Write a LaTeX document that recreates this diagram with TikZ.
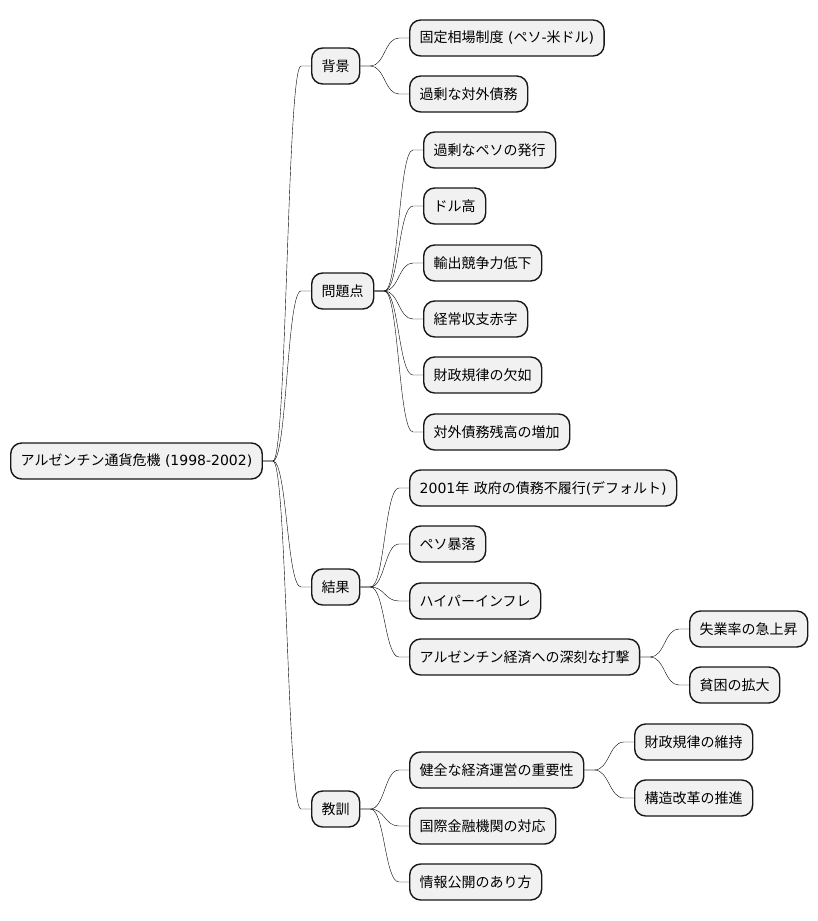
\documentclass[tikz,border=0pt]{standalone}
\usepackage{fontspec}
\setmainfont{Noto Sans CJK JP}
\newfontfamily\lat{DejaVu Sans}
\usetikzlibrary{calc}
\definecolor{boxfill}{HTML}{F1F1F1}
\definecolor{boxline}{HTML}{181818}
\tikzset{
  box/.style={draw=boxline, fill=boxfill, line width=1.4pt, rounded corners=11pt,
    minimum height=36pt, inner xsep=10pt, inner ysep=0pt, anchor=west,
    font=\fontsize{14pt}{16pt}\selectfont, text=black},
  link/.style={draw=boxline, line width=1.1pt,
    to path={let \p1=(\tikztostart), \p2=(\tikztotarget) in
      -- (\x1+10pt,\y1) .. controls ({(\x1+\x2)/2},\y1) and ({(\x1+\x2)/2},\y2) .. (\x2-10pt,\y2) -- (\tikztotarget)}}
}
\begin{document}
\begin{tikzpicture}[x=1pt,y=-1pt]
\useasboundingbox[fill=white] (0,0) rectangle (818,921);
% root
\node[box] (root) at (10,461) {アルゼンチン通貨危機{\lat\ (1998-2002)}};
% level 1
\node[box] (bg) at (311,66) {背景};
\node[box] (pr) at (311,291) {問題点};
\node[box] (rs) at (311,587) {結果};
\node[box] (ls) at (311,809) {教訓};
% 背景
\node[box] (bg1) at (409,38) {固定相場制度{\lat\ (}ペソ{\lat -}米ドル{\lat )}};
\node[box] (bg2) at (409,94) {過剰な対外債務};
% 問題点
\node[box] (pr1) at (423,150) {過剰なペソの発行};
\node[box] (pr2) at (423,206) {ドル高};
\node[box] (pr3) at (423,263) {輸出競争力低下};
\node[box] (pr4) at (423,319) {経常収支赤字};
\node[box] (pr5) at (423,375) {財政規律の欠如};
\node[box] (pr6) at (423,432) {対外債務残高の増加};
% 結果
\node[box] (rs1) at (409,488) {{\lat 2001}年{\lat\ }政府の債務不履行{\lat (}デフォルト{\lat )}};
\node[box] (rs2) at (409,544) {ペソ暴落};
\node[box] (rs3) at (409,601) {ハイパーインフレ};
\node[box] (rs4) at (409,657) {アルゼンチン経済への深刻な打撃};
\node[box] (rs41) at (689,629) {失業率の急上昇};
\node[box] (rs42) at (689,685) {貧困の拡大};
% 教訓
\node[box] (ls1) at (409,770) {健全な経済運営の重要性};
\node[box] (ls11) at (634,742) {財政規律の維持};
\node[box] (ls12) at (634,798) {構造改革の推進};
\node[box] (ls2) at (409,826) {国際金融機関の対応};
\node[box] (ls3) at (409,882) {情報公開のあり方};
% links
\foreach \a/\b in {root/bg,root/pr,root/rs,root/ls,
  bg/bg1,bg/bg2,
  pr/pr1,pr/pr2,pr/pr3,pr/pr4,pr/pr5,pr/pr6,
  rs/rs1,rs/rs2,rs/rs3,rs/rs4,rs4/rs41,rs4/rs42,
  ls/ls1,ls/ls2,ls/ls3,ls1/ls11,ls1/ls12}
  \draw (\a.east) to[link] (\b.west);
\end{tikzpicture}
\end{document}
